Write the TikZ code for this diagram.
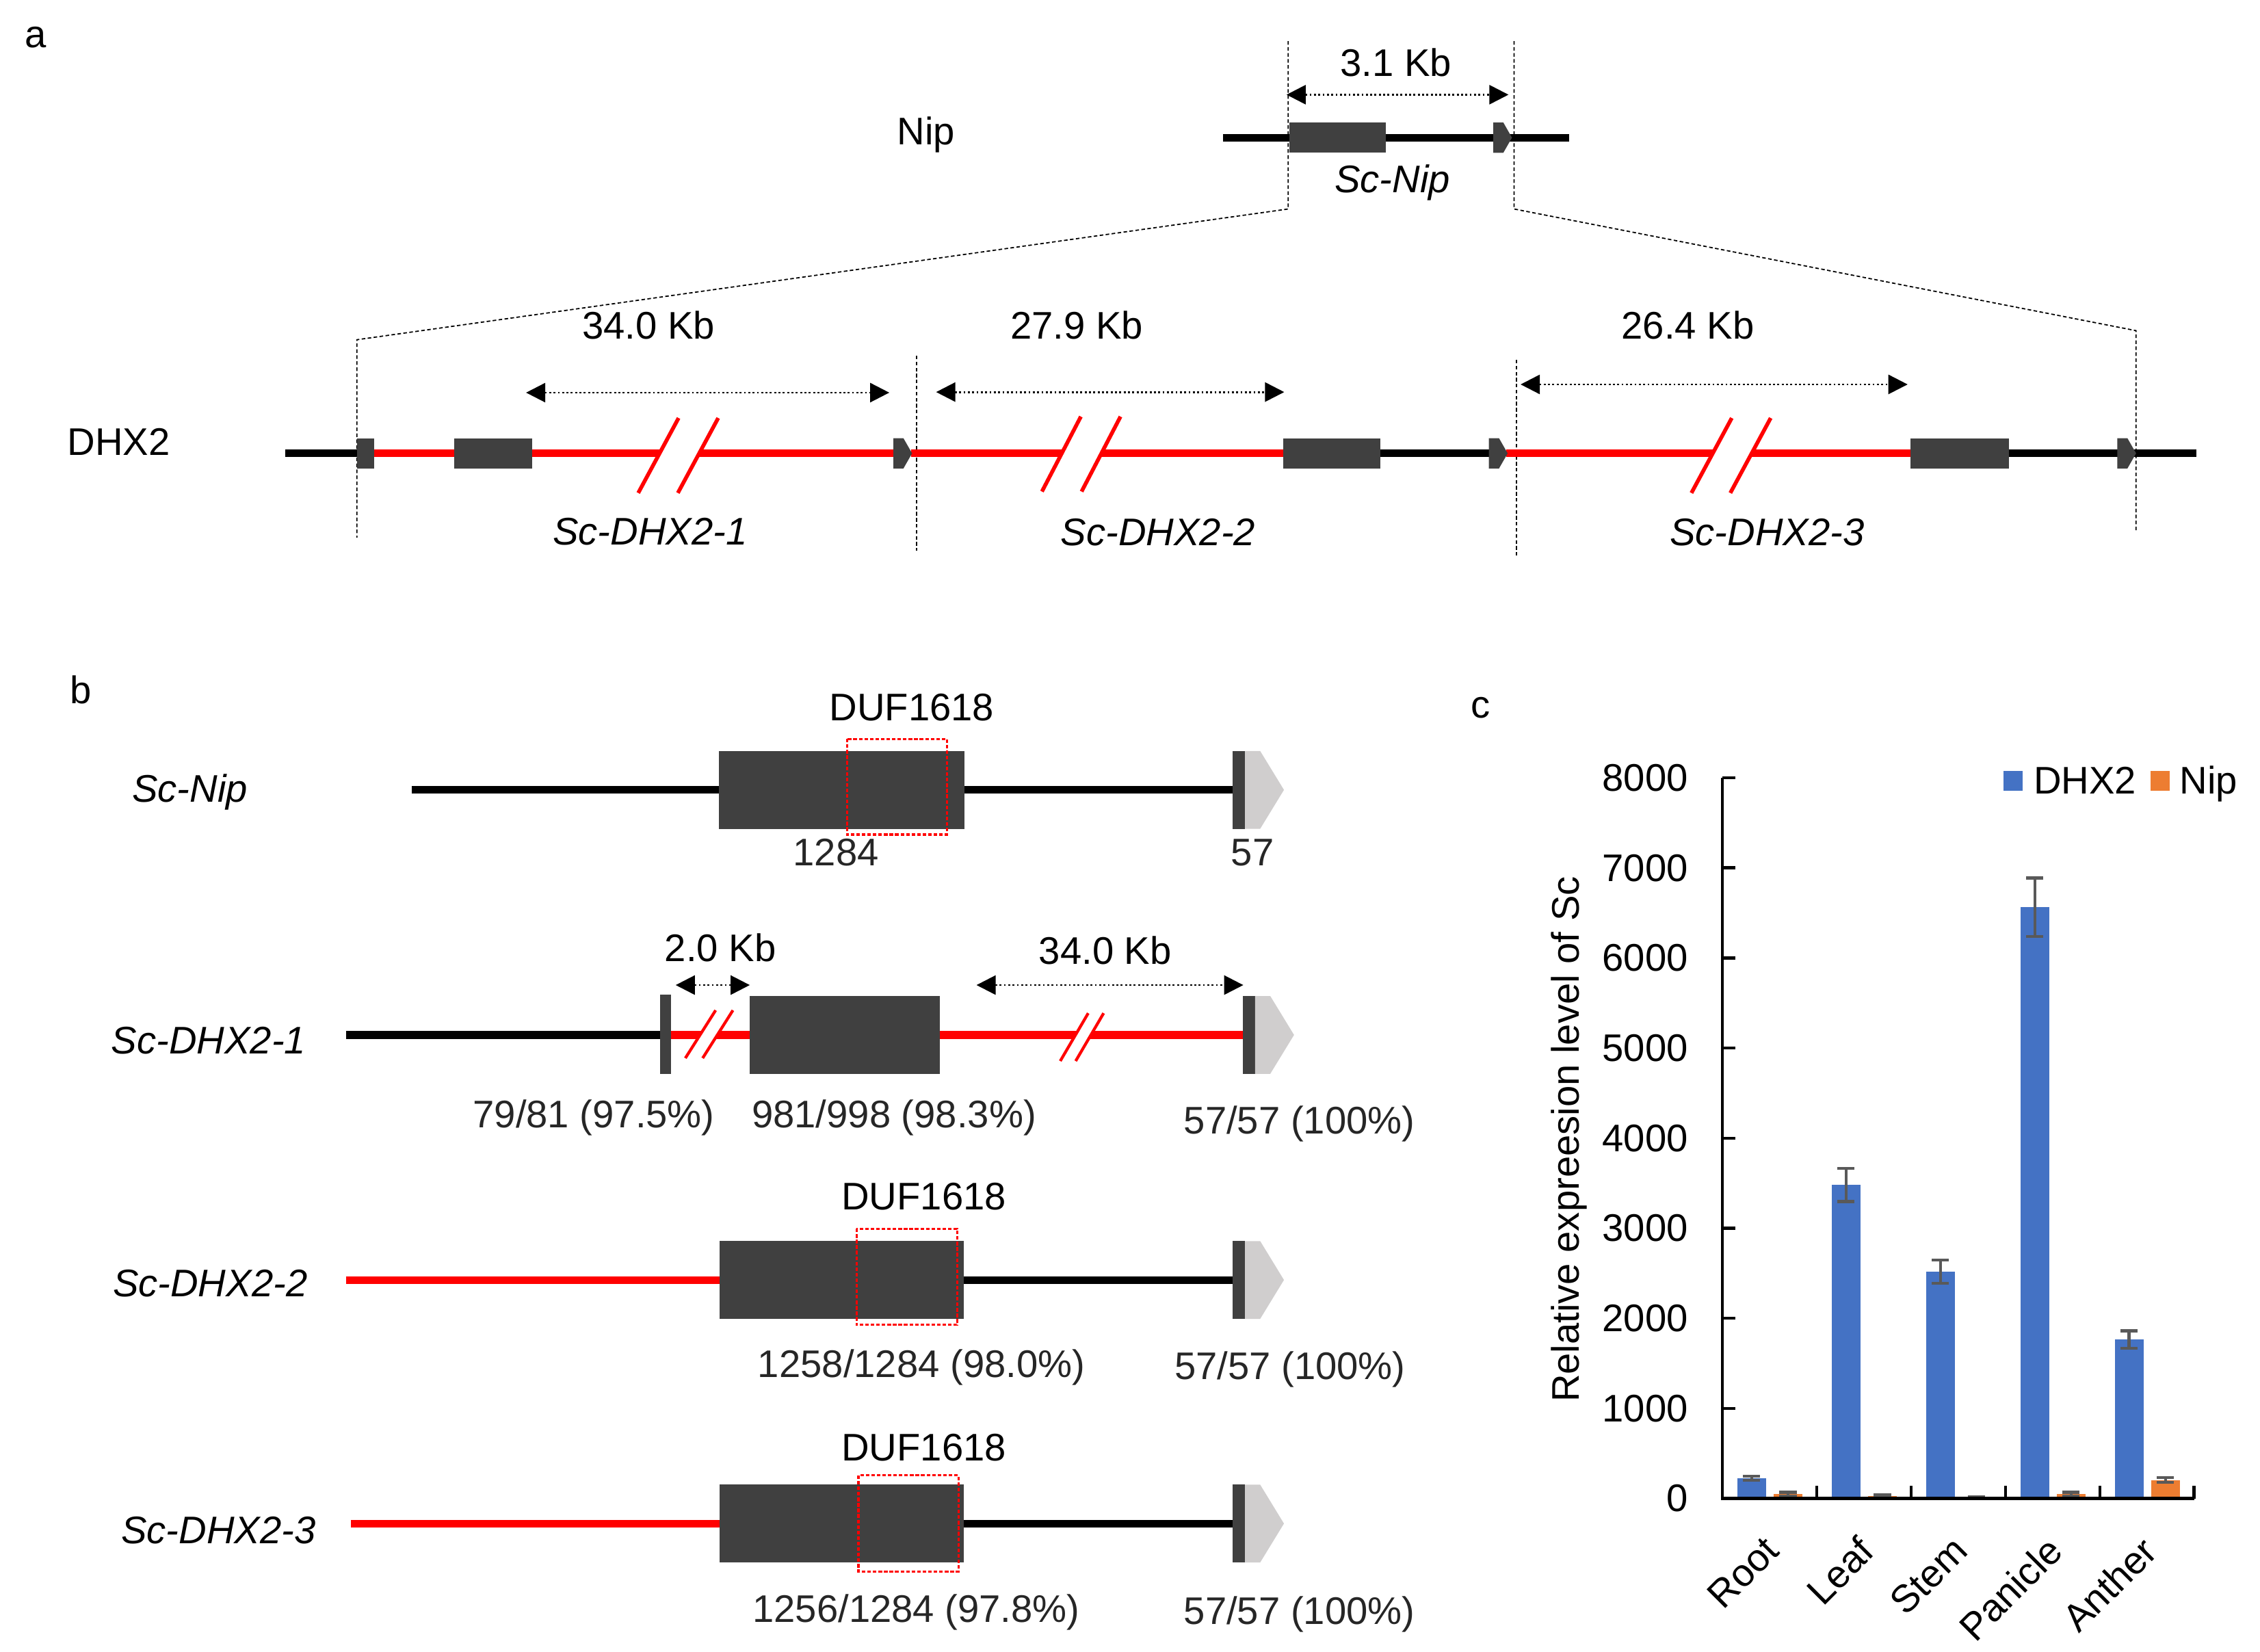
\documentclass[tikz,border=0pt]{standalone}
\usepackage{fontspec}
\setmainfont{Liberation Sans}
\usepackage{tikz}
\usetikzlibrary{arrows.meta}
\usetikzlibrary{positioning}
\definecolor{exongray}{HTML}{404040}
\definecolor{utrgray}{HTML}{D0CECE}
\definecolor{dhxblue}{HTML}{4472C4}
\definecolor{niporange}{HTML}{ED7D31}
\definecolor{errgray}{HTML}{595959}
\definecolor{txtgray}{HTML}{262626}
\tikzstyle{intron} = [line width=3.2pt, black]
\tikzstyle{redline} = [line width=3.2pt, red]
\tikzstyle{exon} = [fill=exongray]
\tikzstyle{utr} = [fill=utrgray]
\tikzstyle{kbarrow} = [densely dotted, line width=0.8pt, {Triangle[length=8pt,width=8pt]}-{Triangle[length=8pt,width=8pt]}]
\tikzstyle{zoomline} = [dash pattern=on 1.5pt off 1pt, line width=0.5pt]
\tikzstyle{dufbox} = [draw=red, dash pattern=on 1.5pt off 0.8pt, line width=0.9pt]
\tikzstyle{chartaxis} = [line width=1.3pt, black]
\tikzstyle{errbar} = [line width=1.2pt, errgray]
\tikzstyle{txt} = [inner sep=0pt, anchor=base]
\newcommand{\cutmark}[6]{%
  \fill[white] (#1-#3,#2+#4) -- (#1+#3,#2-#4) -- (#1+#3+#5,#2-#4) -- (#1-#3+#5,#2+#4) -- cycle;
  \draw[red, line width=#6] (#1-#3,#2+#4) -- (#1+#3,#2-#4) (#1-#3+#5,#2+#4) -- (#1+#3+#5,#2-#4);}
\newcommand{\genetip}[2]{%
  \fill[exon] (#1,#2-10.5) -- (#1+7,#2-10.5) -- (#1+13,#2) -- (#1+7,#2+10.5) -- (#1,#2+10.5) -- cycle;}
\newcommand{\utrend}[2]{%
  \fill[exon] (#1,#2-27) rectangle (#1+8.5,#2+27);
  \fill[utr] (#1+8.5,#2-27) -- (#1+19,#2-27) -- (#1+35.5,#2) -- (#1+19,#2+27) -- (#1+8.5,#2+27) -- cycle;}

\begin{document}
\begin{tikzpicture}[x=0.021071cm, y=-0.021071cm, font=\fontsize{16}{19}\selectfont]
\useasboundingbox (0,0) rectangle (1568,1146);

\node[txt] (lbl_a) at (24.6,33) {a};
\node[txt] (nip_name) at (642.5,100.5) {Nip};
\node[txt] (dhx2_name) at (82.3,315.7) {DHX2};

\coordinate (nip_l_top) at (893.7,28.5);
\coordinate (nip_l) at (893.7,145);
\coordinate (nip_r_top) at (1050.5,28.5);
\coordinate (nip_r) at (1050.5,145);
\coordinate (dhx_l) at (247.6,235.7);
\coordinate (dhx_r) at (1482,229.4);
\draw[zoomline] (nip_l_top) -- (nip_l) -- (dhx_l) -- (247.6,373);
\draw[zoomline] (nip_r_top) -- (nip_r) -- (dhx_r) -- (1482,369);
\draw[zoomline] (636,246.8) -- (636,382);
\draw[zoomline] (1052,249.6) -- (1052,386);

\draw[intron] (848.6,95.5) -- (1088.6,95.5);
\fill[exon] (894.4,85) rectangle (961.5,106);
\genetip{1036}{95.5}
\draw[kbarrow] (892.6,65.7) -- (1046.6,65.7);
\node[txt] (kb_nip) at (968.4,53) {3.1 Kb};
\node[txt] (sc_nip) at (966,133.5) {\itshape Sc-Nip};

\draw[intron] (198,314.5) -- (248,314.5);
\draw[redline] (259,314.5) -- (620,314.5);
\draw[redline] (632,314.5) -- (891,314.5);
\draw[intron] (957,314.5) -- (1034,314.5);
\draw[redline] (1045,314.5) -- (1326,314.5);
\draw[intron] (1393,314.5) -- (1524,314.5);
\fill[exon] (247.6,304) rectangle (259.7,325);
\fill[exon] (315.2,304) rectangle (369,325);
\fill[exon] (890.3,304) rectangle (957.6,325);
\fill[exon] (1325.3,304) rectangle (1393.7,325);
\genetip{619.8}{314.5}
\genetip{1033}{314.5}
\genetip{1469}{314.5}
\cutmark{456.8}{316}{14}{26}{27.5}{1.6pt}
\cutmark{736.4}{315}{13.5}{26}{27.5}{1.6pt}
\cutmark{1187.5}{316}{14}{26}{27}{1.6pt}

\draw[kbarrow] (365,272.4) -- (617,272.4);
\draw[kbarrow] (649.5,272) -- (891,272);
\draw[kbarrow] (1055,266.7) -- (1323.5,266.7);
\node[txt] (kb_dhx1) at (450,235) {34.0 Kb};
\node[txt] (kb_dhx2) at (747,235) {27.9 Kb};
\node[txt] (kb_dhx3) at (1171,235) {26.4 Kb};
\node[txt] (sc_dhx1) at (451,378) {\itshape Sc-DHX2-1};
\node[txt] (sc_dhx2) at (803.5,378.5) {\itshape Sc-DHX2-2};
\node[txt] (sc_dhx3) at (1226,378.5) {\itshape Sc-DHX2-3};

\node[txt] (lbl_b) at (56,488) {b};
\node[txt] (row_nip) at (131.7,556.5) {\itshape Sc-Nip};
\node[txt] (row_dhx1) at (144.8,731) {\itshape Sc-DHX2-1};
\node[txt] (row_dhx2) at (145.8,899.7) {\itshape Sc-DHX2-2};
\node[txt] (row_dhx3) at (151.5,1071) {\itshape Sc-DHX2-3};

\draw[intron] (285.6,548) -- (856,548);
\fill[exon] (499,521) rectangle (669,575);
\utrend{855.3}{548}
\draw[dufbox] (587.6,512.6) rectangle (657,579);
\node[txt] (duf_nip) at (632.5,500) {DUF1618};
\node[txt, txtgray] (len_nip) at (580,600.5) {1284};
\node[txt, txtgray] (len_nip3) at (869,600.5) {57};

\draw[intron] (240,718) -- (459,718);
\draw[redline] (465,718) -- (863,718);
\fill[exon] (458.1,690) rectangle (465.4,745);
\fill[exon] (520.2,691) rectangle (651.9,745);
\utrend{862.3}{718}
\cutmark{486}{717.5}{10.5}{16.6}{12}{1.2pt}
\cutmark{745.3}{719.5}{9.7}{16.6}{10.7}{1.2pt}
\draw[kbarrow] (468.8,683.4) -- (520.2,683.4);
\draw[kbarrow] (677.5,683.4) -- (862.6,683.4);
\node[txt] (kb_gap1) at (499.8,666.8) {2.0 Kb};
\node[txt] (kb_gap2) at (766.8,669) {34.0 Kb};
\node[txt, txtgray] (id_dhx1a) at (412,782.3) {79/81 (97.5\%)};
\node[txt, txtgray] (id_dhx1b) at (620.3,782.3) {981/998 (98.3\%)};
\node[txt, txtgray] (id_dhx1c) at (901.5,786.5) {57/57 (100\%)};

\draw[redline] (240,888) -- (500,888);
\draw[intron] (668,888) -- (856,888);
\fill[exon] (499.3,861) rectangle (668.7,915);
\utrend{855.3}{888}
\draw[dufbox] (594.2,852.4) rectangle (664,919.2);
\node[txt] (duf_dhx2) at (641,839.3) {DUF1618};
\node[txt, txtgray] (id_dhx2a) at (639.3,955.5) {1258/1284 (98.0\%)};
\node[txt, txtgray] (id_dhx2b) at (895,957) {57/57 (100\%)};

\draw[redline] (243.5,1057) -- (500,1057);
\draw[intron] (668,1057) -- (856,1057);
\fill[exon] (499.3,1030) rectangle (668.7,1084);
\utrend{855.3}{1057}
\draw[dufbox] (595.6,1023.6) rectangle (665,1090.3);
\node[txt] (duf_dhx3) at (641,1013.3) {DUF1618};
\node[txt, txtgray] (id_dhx3a) at (635.7,1125.6) {1256/1284 (97.8\%)};
\node[txt, txtgray] (id_dhx3b) at (901.5,1126.7) {57/57 (100\%)};

\node[txt] (lbl_c) at (1027.4,498) {c};
\node[rotate=90, inner sep=0pt] (y_title) at (1088.5,790.4) {Relative expreesion level of Sc};
\foreach \k/\v in {0/0,1/1000,2/2000,3/3000,4/4000,5/5000,6/6000,7/7000,8/8000} {
  \draw[chartaxis] (1195,1039.6-62.5*\k) -- (1204,1039.6-62.5*\k);
  \node[anchor=east, inner sep=0pt] (ytick_\k) at (1171.4,1039.6-62.5*\k) {\v};
}
\foreach \j in {1,...,5}
  \draw[chartaxis] (1195+65.46*\j,1039.6) -- (1195+65.46*\j,1031);
\foreach \i/\d/\de/\n/\ne/\name in {0/225/25/50/20/Root, 1/3480/183/30/15/Leaf, 2/2517/130/10/10/Stem, 3/6563/325/50/20/Panicle, 4/1763/98/205/25/Anther} {
  \fill[dhxblue] (1195+65.46*\i+10.3,1039.6) rectangle (1195+65.46*\i+30.3,1039.6-0.0625*\d);
  \fill[niporange] (1195+65.46*\i+35.5,1039.6) rectangle (1195+65.46*\i+55.5,1039.6-0.0625*\n);
  \draw[errbar] (1195+65.46*\i+14.3,1039.6-0.0625*\d-0.0625*\de) -- (1195+65.46*\i+26.3,1039.6-0.0625*\d-0.0625*\de)
    (1195+65.46*\i+20.3,1039.6-0.0625*\d-0.0625*\de) -- (1195+65.46*\i+20.3,1039.6-0.0625*\d+0.0625*\de)
    (1195+65.46*\i+14.3,1039.6-0.0625*\d+0.0625*\de) -- (1195+65.46*\i+26.3,1039.6-0.0625*\d+0.0625*\de);
  \draw[errbar] (1195+65.46*\i+39.5,1039.6-0.0625*\n-0.0625*\ne) -- (1195+65.46*\i+51.5,1039.6-0.0625*\n-0.0625*\ne)
    (1195+65.46*\i+45.5,1039.6-0.0625*\n-0.0625*\ne) -- (1195+65.46*\i+45.5,1039.6-0.0625*\n+0.0625*\ne)
    (1195+65.46*\i+39.5,1039.6-0.0625*\n+0.0625*\ne) -- (1195+65.46*\i+51.5,1039.6-0.0625*\n+0.0625*\ne);
  \node[rotate=45, anchor=north east, inner sep=0pt] (cat_\name) at (1195+65.46*\i+27.5,1064) {\name};
}
\draw[chartaxis] (1195,539.5) -- (1195,1039.6) -- (1522.3,1039.6);

\fill[dhxblue] (1390,535) rectangle (1403.5,548.5);
\node[txt, anchor=base west] (leg_dhx2) at (1410.6,550.9) {DHX2};
\fill[niporange] (1492,535) rectangle (1505.5,548.5);
\node[txt, anchor=base west] (leg_nip) at (1512,550.9) {Nip};
\end{tikzpicture}
\end{document}
